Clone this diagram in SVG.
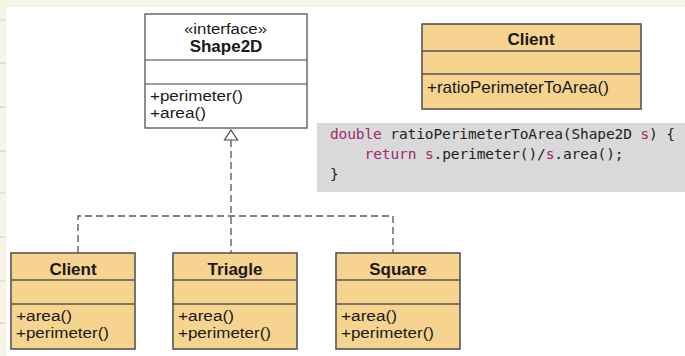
<svg xmlns="http://www.w3.org/2000/svg" width="685" height="356" viewBox="0 0 685 356">
<style>
.box{fill:#f6d38e;stroke:#555;stroke-width:1.6}
.ibox{fill:#fff;stroke:#444;stroke-width:1.2}
.t{font-family:"Liberation Sans",Arial,sans-serif;font-size:17px;fill:#1a1a1a}
.m{font-size:15.5px}
.b{font-weight:bold;text-anchor:middle}
.dash{fill:none;stroke:#555;stroke-width:1.3;stroke-dasharray:7,4}
.code{font-family:"DejaVu Sans Mono",monospace;font-size:14.5px;fill:#222;white-space:pre}
.kw{fill:#9b2a6e}
.edge{stroke:#ccc;stroke-width:1}
</style>
<rect width="685" height="356" fill="#fff"/>
<rect x="0" y="0" width="685" height="7" fill="#f6f3e7"/>
<rect x="0" y="0" width="6" height="356" fill="#f6f3e7"/>
<g class="edge">
<line x1="0" y1="20" x2="6" y2="20"/><line x1="0" y1="63" x2="6" y2="63"/><line x1="0" y1="107" x2="6" y2="107"/><line x1="0" y1="151" x2="6" y2="151"/><line x1="0" y1="193" x2="6" y2="193"/><line x1="0" y1="237" x2="6" y2="237"/><line x1="0" y1="281" x2="6" y2="281"/><line x1="0" y1="323" x2="6" y2="323"/>
</g>
<g id="connectors">
<path class="dash" d="M231,140 V253 M78,253 V216 H393 V253"/>
<polygon points="231,130 237.5,140 224.5,140" fill="#fff" stroke="#444" stroke-width="1.2"/>
</g>
<g id="shape2d">
<rect class="ibox" x="145" y="14" width="162" height="114"/>
<line x1="145" y1="60" x2="307" y2="60" stroke="#444" stroke-width="1.2"/>
<line x1="145" y1="84" x2="307" y2="84" stroke="#444" stroke-width="1.2"/>
<text class="t m" x="184" y="34" textLength="83" lengthAdjust="spacingAndGlyphs">«interface»</text>
<text class="t b" x="226" y="52">Shape2D</text>
<text class="t m" x="150" y="101" textLength="93" lengthAdjust="spacingAndGlyphs">+perimeter()</text>
<text class="t m" x="150" y="118" textLength="56" lengthAdjust="spacingAndGlyphs">+area()</text>
</g>
<g id="client-top">
<rect class="box" x="422" y="24" width="219" height="85"/>
<line x1="422" y1="51" x2="641" y2="51" stroke="#555" stroke-width="1.4"/>
<line x1="422" y1="74" x2="641" y2="74" stroke="#555" stroke-width="1.4"/>
<text class="t b" x="531" y="45">Client</text>
<text class="t" x="427" y="93">+ratioPerimeterToArea()</text>
</g>
<g id="code">
<rect x="317" y="123" width="368" height="69" fill="#d9d9d9"/>
<text class="code" x="330" y="139" textLength="345" lengthAdjust="spacing"><tspan class="kw">double</tspan> ratioPerimeterToArea(Shape2D <tspan class="kw">s</tspan>) {</text>
<text class="code" x="364.5" y="159" textLength="259" lengthAdjust="spacing"><tspan class="kw">return</tspan> <tspan class="kw">s</tspan>.perimeter()/<tspan class="kw">s</tspan>.area();</text>
<text class="code" x="330" y="179">}</text>
</g>
<g id="client">
<rect class="box" x="11" y="253" width="124" height="96"/>
<line x1="11" y1="280" x2="135" y2="280" stroke="#555" stroke-width="1.4"/>
<line x1="11" y1="304" x2="135" y2="304" stroke="#555" stroke-width="1.4"/>
<text class="t b" x="73" y="275">Client</text>
<text class="t m" x="16" y="321" textLength="56" lengthAdjust="spacingAndGlyphs">+area()</text>
<text class="t m" x="16" y="338" textLength="93" lengthAdjust="spacingAndGlyphs">+perimeter()</text>
</g>
<g id="triagle">
<rect class="box" x="173" y="253" width="124" height="96"/>
<line x1="173" y1="280" x2="297" y2="280" stroke="#555" stroke-width="1.4"/>
<line x1="173" y1="304" x2="297" y2="304" stroke="#555" stroke-width="1.4"/>
<text class="t b" x="235" y="275">Triagle</text>
<text class="t m" x="178" y="321" textLength="56" lengthAdjust="spacingAndGlyphs">+area()</text>
<text class="t m" x="178" y="338" textLength="93" lengthAdjust="spacingAndGlyphs">+perimeter()</text>
</g>
<g id="square">
<rect class="box" x="336" y="253" width="124" height="96"/>
<line x1="336" y1="280" x2="460" y2="280" stroke="#555" stroke-width="1.4"/>
<line x1="336" y1="304" x2="460" y2="304" stroke="#555" stroke-width="1.4"/>
<text class="t b" x="398" y="275">Square</text>
<text class="t m" x="341" y="321" textLength="56" lengthAdjust="spacingAndGlyphs">+area()</text>
<text class="t m" x="341" y="338" textLength="93" lengthAdjust="spacingAndGlyphs">+perimeter()</text>
</g>
</svg>
